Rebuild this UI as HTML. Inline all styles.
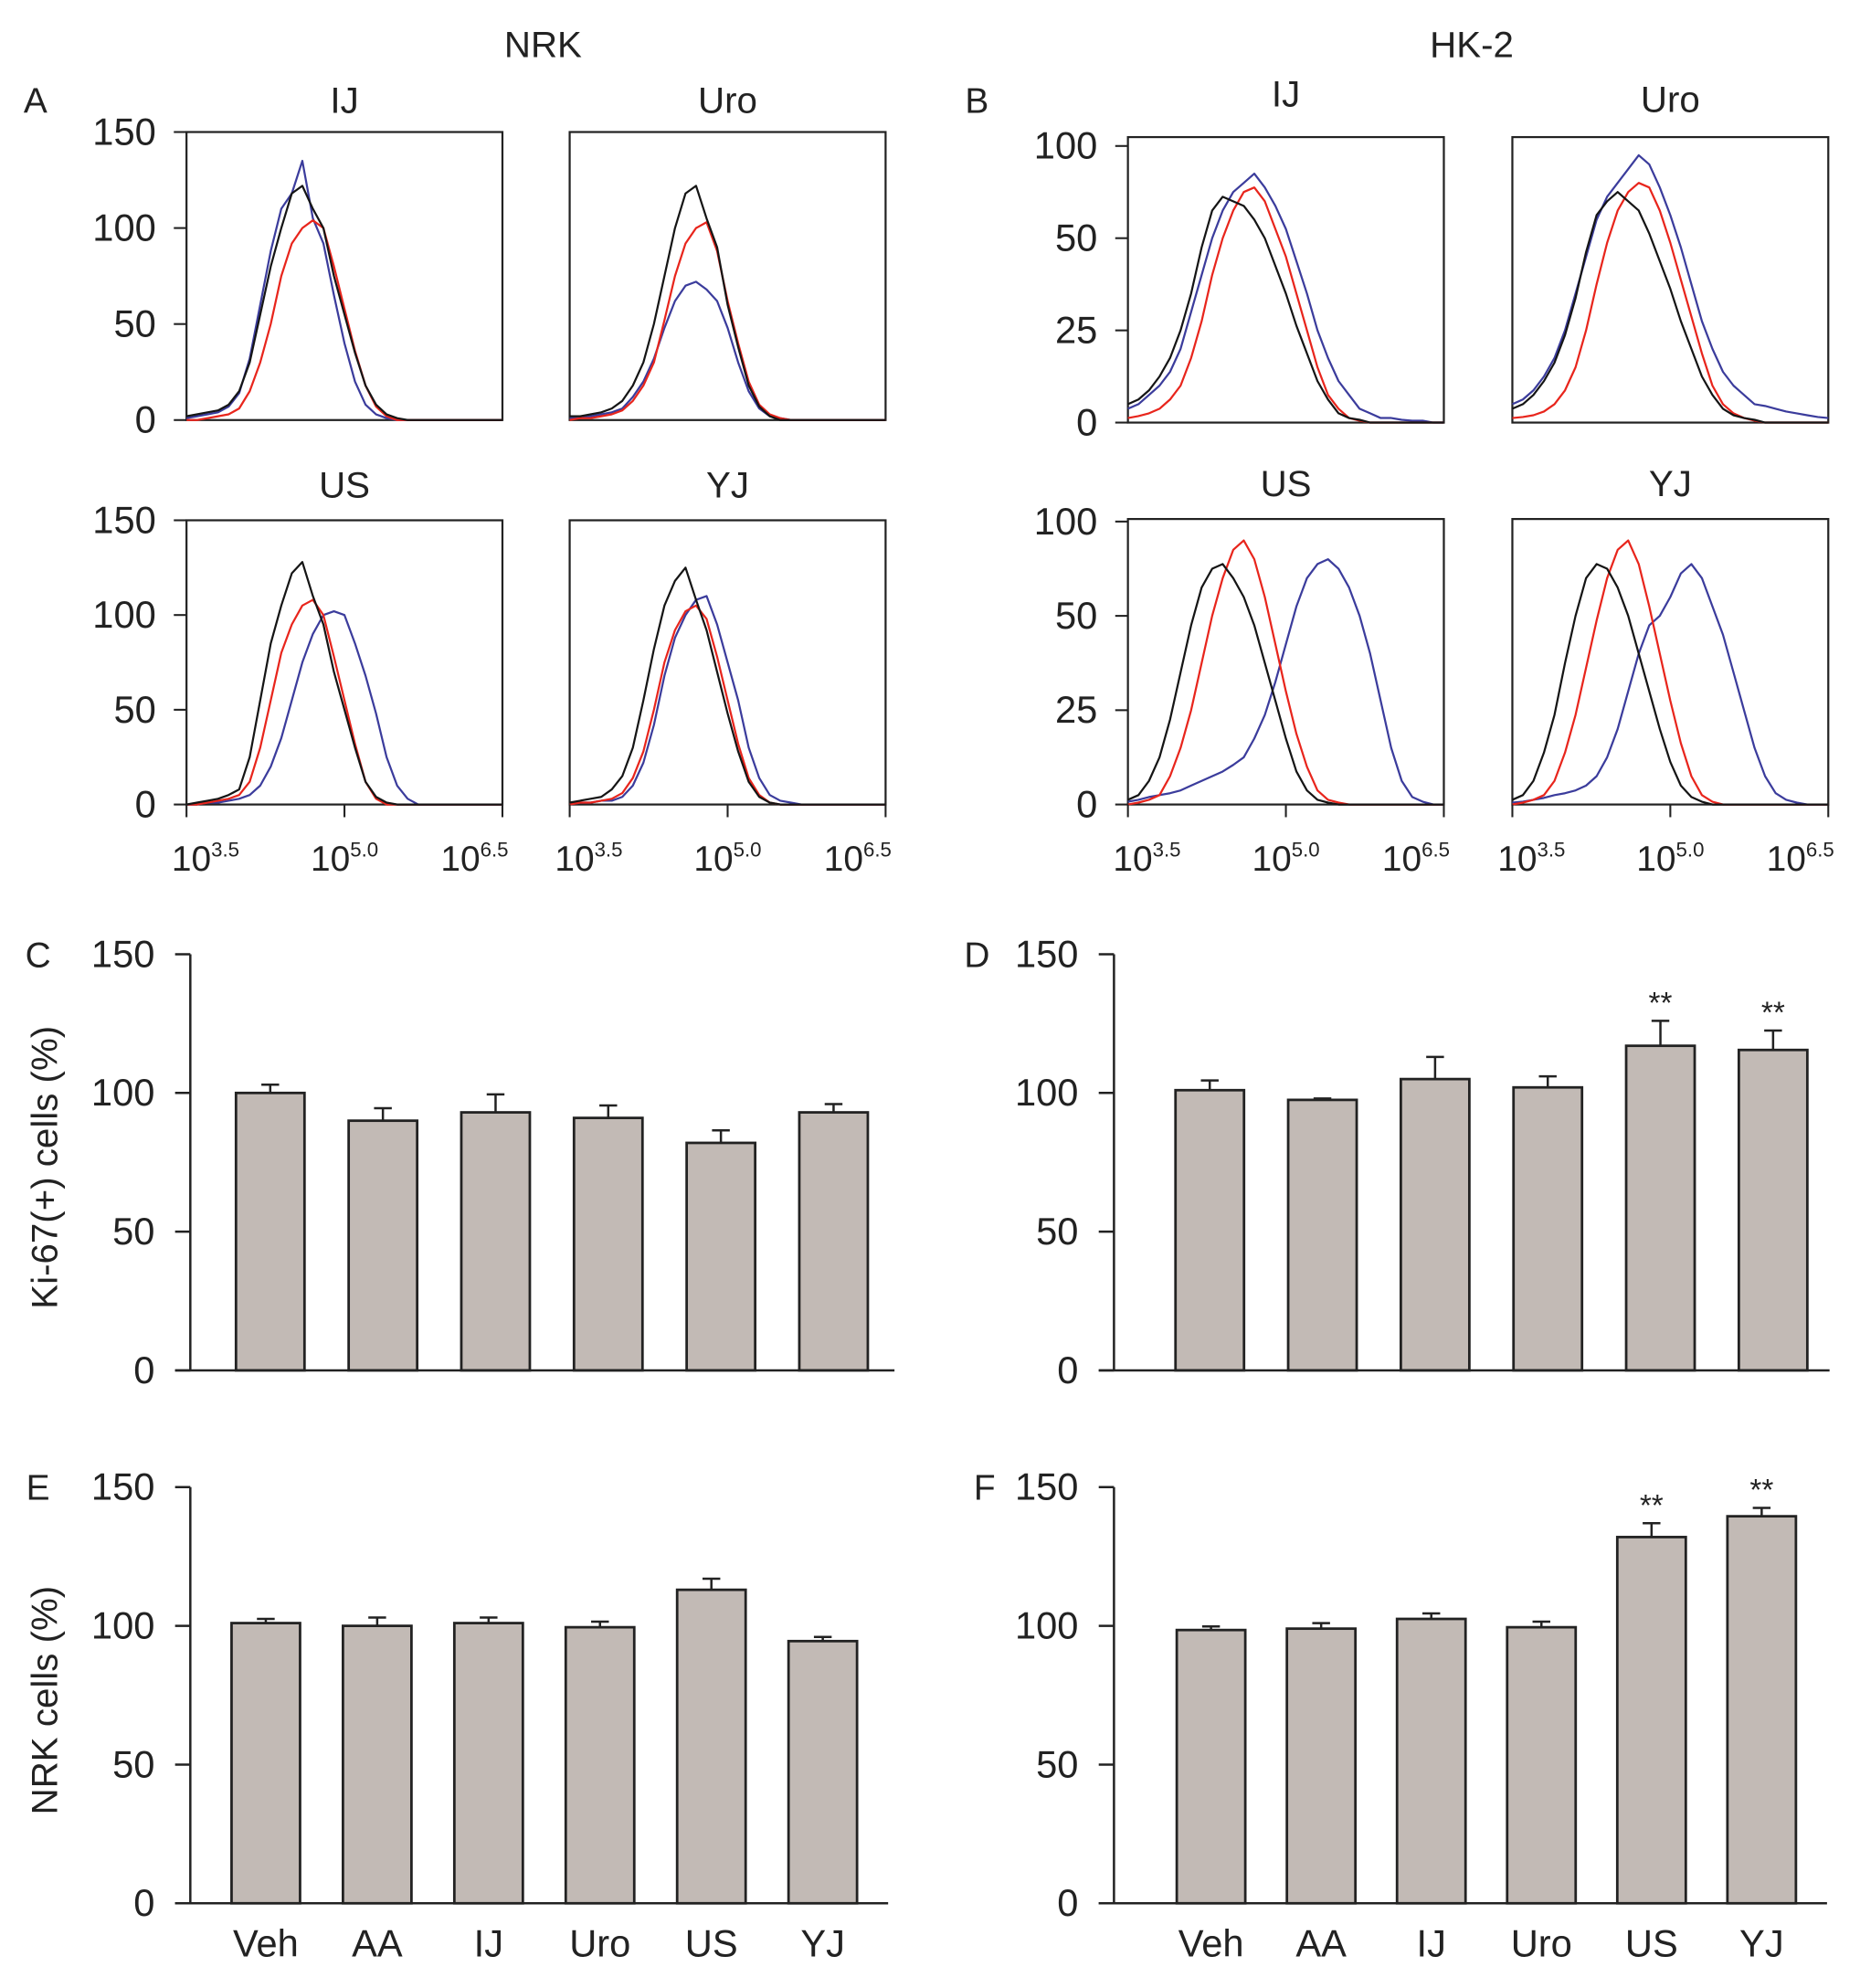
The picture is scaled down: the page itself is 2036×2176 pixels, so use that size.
<!DOCTYPE html>
<html><head><meta charset="utf-8">
<style>
html,body{margin:0;padding:0;background:#fff;}
svg{display:block;}
text{font-family:"Liberation Sans",Arial,sans-serif;fill:#222;}
</style></head>
<body>
<svg id="fig" xmlns="http://www.w3.org/2000/svg" width="2036" height="2176" viewBox="0 0 1466 1566.7"></svg>
<script>
// ---------- DATA ----------
const logBins = [3.5,3.6,3.7,3.8,3.9,4.0,4.1,4.2,4.3,4.4,4.5,4.6,4.7,4.8,4.9,5.0,5.1,5.2,5.3,5.4,5.5,5.6,5.7,5.8,5.9,6.0,6.1,6.2,6.3,6.4,6.5];
const xTickVals = [3.5,5.0,6.5];
const xTickSups = ['3.5','5.0','6.5'];
const nrkTickVals = [0,50,100,150];
const nrkTickLabels = ['0','50','100','150'];
const hkTickVals = [0,1,2,3];
const hkTickLabels = ['0','25','50','100'];

// NRK histograms (counts)
const nrkIJblack = [2,3,4,5,8,15,30,55,80,100,118,122,110,100,75,55,35,18,8,3,1,0,0,0,0,0,0,0,0,0,0];
const nrkIJred   = [0,0,1,2,3,6,15,30,50,75,92,100,104,100,80,58,36,18,7,2,0,0,0,0,0,0,0,0,0,0,0];
const nrkIJblue  = [1,2,3,4,7,14,32,60,88,110,118,135,105,92,65,40,20,8,3,1,0,0,0,0,0,0,0,0,0,0,0];
const nrkUroblack= [2,2,3,4,6,10,18,30,50,75,100,118,122,105,90,60,38,18,7,2,0,0,0,0,0,0,0,0,0,0,0];
const nrkUrored  = [0,1,1,2,3,5,10,18,30,52,75,92,100,103,88,62,40,20,8,3,1,0,0,0,0,0,0,0,0,0,0];
const nrkUroblue = [1,1,2,3,4,6,12,20,32,48,62,70,72,68,62,48,30,15,6,2,1,0,0,0,0,0,0,0,0,0,0];
const nrkUSblack = [0,1,2,3,5,8,25,55,85,105,122,128,110,95,70,50,30,12,4,1,0,0,0,0,0,0,0,0,0,0,0];
const nrkUSred   = [0,0,1,2,3,5,12,30,55,80,95,105,108,100,78,55,32,12,3,0,0,0,0,0,0,0,0,0,0,0,0];
const nrkUSblue  = [0,0,1,1,2,3,5,10,20,35,55,75,90,100,102,100,85,68,48,25,10,3,0,0,0,0,0,0,0,0,0];
const nrkYJblack = [1,2,3,4,8,15,30,55,82,105,118,125,108,92,70,48,28,12,4,1,0,0,0,0,0,0,0,0,0,0,0];
const nrkYJred   = [0,1,1,2,3,6,14,28,50,75,92,102,105,98,78,55,32,14,5,1,0,0,0,0,0,0,0,0,0,0,0];
const nrkYJblue  = [0,1,1,2,2,4,10,22,42,68,88,100,108,110,95,75,55,30,14,5,2,1,0,0,0,0,0,0,0,0,0];

// HK-2 histograms (axis units: 0,1,2,3 -> labels 0,25,50,100)
const hkIJblack = [0.2,0.25,0.35,0.5,0.7,1.0,1.4,1.9,2.3,2.45,2.4,2.35,2.2,2.0,1.7,1.4,1.05,0.75,0.45,0.25,0.1,0.05,0.03,0,0,0,0,0,0,0,0];
const hkIJred   = [0.05,0.07,0.1,0.15,0.25,0.4,0.7,1.1,1.6,2.0,2.3,2.5,2.55,2.4,2.1,1.8,1.4,1.0,0.6,0.3,0.15,0.05,0.02,0,0,0,0,0,0,0,0];
const hkIJblue  = [0.15,0.2,0.3,0.4,0.55,0.8,1.2,1.6,2.0,2.3,2.5,2.6,2.7,2.55,2.35,2.1,1.75,1.4,1.0,0.7,0.45,0.3,0.15,0.1,0.05,0.05,0.03,0.02,0.02,0,0];
const hkUroblack= [0.15,0.2,0.3,0.45,0.65,0.95,1.35,1.85,2.25,2.4,2.5,2.4,2.3,2.05,1.75,1.45,1.1,0.8,0.5,0.3,0.15,0.08,0.05,0.03,0,0,0,0,0,0,0];
const hkUrored  = [0.05,0.06,0.08,0.12,0.2,0.35,0.6,1.0,1.5,1.95,2.3,2.5,2.6,2.55,2.3,1.95,1.55,1.15,0.75,0.4,0.2,0.1,0.05,0.02,0,0,0,0,0,0,0];
const hkUroblue = [0.2,0.25,0.35,0.5,0.7,1.0,1.4,1.8,2.2,2.45,2.6,2.75,2.9,2.8,2.55,2.25,1.9,1.5,1.1,0.8,0.55,0.4,0.3,0.2,0.18,0.15,0.12,0.1,0.08,0.06,0.05];
const hkUSblack = [0.05,0.1,0.25,0.5,0.9,1.4,1.9,2.3,2.5,2.55,2.4,2.2,1.9,1.5,1.1,0.7,0.35,0.15,0.05,0.02,0,0,0,0,0,0,0,0,0,0,0];
const hkUSred   = [0,0.02,0.05,0.1,0.3,0.6,1.0,1.5,2.0,2.4,2.7,2.8,2.6,2.2,1.7,1.2,0.75,0.4,0.15,0.05,0.02,0,0,0,0,0,0,0,0,0,0];
const hkUSblue  = [0.03,0.05,0.08,0.1,0.12,0.15,0.2,0.25,0.3,0.35,0.42,0.5,0.7,0.95,1.3,1.7,2.1,2.4,2.55,2.6,2.5,2.3,2.0,1.6,1.1,0.6,0.25,0.08,0.03,0,0];
const hkYJblack = [0.05,0.1,0.25,0.55,0.95,1.5,2.0,2.4,2.55,2.5,2.3,2.0,1.6,1.2,0.8,0.45,0.2,0.08,0.03,0,0,0,0,0,0,0,0,0,0,0,0];
const hkYJred   = [0,0.02,0.05,0.1,0.25,0.55,0.95,1.45,1.95,2.4,2.7,2.8,2.55,2.1,1.6,1.1,0.65,0.3,0.1,0.03,0,0,0,0,0,0,0,0,0,0,0];
const hkYJblue  = [0.02,0.03,0.05,0.07,0.1,0.12,0.15,0.2,0.3,0.5,0.8,1.2,1.6,1.9,2.0,2.2,2.45,2.55,2.4,2.1,1.8,1.4,1.0,0.6,0.3,0.12,0.05,0.02,0,0,0];

// Bar charts
const barCats = ['Veh','AA','IJ','Uro','US','YJ'];
const barTickVals = [0,50,100,150];
const barTickLabels = ['0','50','100','150'];
const cVals = [100,90,93,91,82,93];
const cErrs = [3,4.5,6.5,4.5,4.5,3];
const dVals = [101,97.5,105,102,117,115.5];
const dErrs = [3.5,0.5,8,4,9,7];
const dSig  = ['','','','','**','**'];
const eVals = [101,100,101,99.5,113,94.5];
const eErrs = [1.5,3,2,2,4,1.5];
const fVals = [98.5,99,102.5,99.5,132,139.5];
const fErrs = [1.3,2,2,2,5,3];
const fSig  = ['','','','','**','**'];

// ---------- DRAWING ----------
const svg = document.getElementById('fig');
const NS = 'http://www.w3.org/2000/svg';
function mk(tag, attrs, parent){
  const el = document.createElementNS(NS, tag);
  for (const k in attrs) el.setAttribute(k, attrs[k]);
  (parent||svg).appendChild(el);
  return el;
}
function txt(s, x, y, size, anchor, parent){
  const t = mk('text', {x:x, y:y, 'font-size':size, 'text-anchor':anchor||'middle'}, parent);
  t.textContent = s;
  return t;
}

const COLORS = {black:'#151515', red:'#e8251c', blue:'#3b3c9c'};
const xLabelShift = [15,0,-22];

function histPanel(name, box, yTickVals, yTickLabels, yTopVal, curves){
  const g = mk('g', {});
  
  
  const xs = v => box.x0 + (v - 3.5) / 3 * (box.x1 - box.x0);
  const ys = v => box.y0 - v / yTopVal * (box.y0 - box.yTopTick);
  const r = mk('rect', {x:box.x0, y:box.top, width:box.x1-box.x0, height:box.y0-box.top, fill:'none', stroke:'#222', 'stroke-width':1.6}, g);
  
  
  const order = ['blue','red','black'];
  order.forEach(c => {
    const arr = curves[c];
    const pts = logBins.map((b,i) => xs(b).toFixed(1) + ',' + ys(arr[i]).toFixed(1)).join(' ');
    const p = mk('polyline', {points:pts, fill:'none', stroke:COLORS[c], 'stroke-width':1.6, 'stroke-linejoin':'round'}, g);
    
    
  });
  yTickVals.forEach((v,i) => {
    const y = ys(v);
    const l = mk('line', {x1:box.x0-10, x2:box.x0, y1:y, y2:y, stroke:'#222', 'stroke-width':1.5}, g);
    
    
    const t = txt(yTickLabels[i], box.x0-24, y+10, 30, 'end', g);
    
    
  });
  if (box.xlabels){
    xTickVals.forEach((v,i) => {
      const x = xs(v);
      const l = mk('line', {x1:x, x2:x, y1:box.y0, y2:box.y0+10, stroke:'#222', 'stroke-width':1.5}, g);
      
      
      const t = mk('text', {x:x+xLabelShift[i], y:box.y0+52, 'font-size':28, 'text-anchor':'middle'}, g);
      
      
      t.textContent = '10';
      const s = mk('tspan', {'font-size':16, dy:-11}, t);
      s.textContent = xTickSups[i];
    });
  }
  const tt = txt(box.title, (box.x0+box.x1)/2, box.top-box.tOff, 29, 'middle', g);
  
  
}

histPanel('nrk-ij', {x0:147,x1:396,top:104,y0:331,yTopTick:104,title:'IJ',tOff:15,xlabels:false}, nrkTickVals, nrkTickLabels, 150, {black:nrkIJblack, red:nrkIJred, blue:nrkIJblue});
histPanel('nrk-uro', {x0:449,x1:698,top:104,y0:331,yTopTick:104,title:'Uro',tOff:15,xlabels:false}, [], [], 150, {black:nrkUroblack, red:nrkUrored, blue:nrkUroblue});
histPanel('nrk-us', {x0:147,x1:396,top:410,y0:634,yTopTick:410,title:'US',tOff:18,xlabels:true}, nrkTickVals, nrkTickLabels, 150, {black:nrkUSblack, red:nrkUSred, blue:nrkUSblue});
histPanel('nrk-yj', {x0:449,x1:698,top:410,y0:634,yTopTick:410,title:'YJ',tOff:18,xlabels:true}, [], [], 150, {black:nrkYJblack, red:nrkYJred, blue:nrkYJblue});
histPanel('hk2-ij', {x0:889,x1:1138,top:108,y0:333,yTopTick:115,title:'IJ',tOff:24,xlabels:false}, hkTickVals, hkTickLabels, 3, {black:hkIJblack, red:hkIJred, blue:hkIJblue});
histPanel('hk2-uro', {x0:1192,x1:1441,top:108,y0:333,yTopTick:115,title:'Uro',tOff:20,xlabels:false}, [], [], 3, {black:hkUroblack, red:hkUrored, blue:hkUroblue});
histPanel('hk2-us', {x0:889,x1:1138,top:409,y0:634,yTopTick:411,title:'US',tOff:18,xlabels:true}, hkTickVals, hkTickLabels, 3, {black:hkUSblack, red:hkUSred, blue:hkUSblue});
histPanel('hk2-yj', {x0:1192,x1:1441,top:409,y0:634,yTopTick:411,title:'YJ',tOff:18,xlabels:true}, [], [], 3, {black:hkYJblack, red:hkYJred, blue:hkYJblue});

function barPanel(name, cfg, vals, errs, sig){
  const g = mk('g', {});
  
  
  const ys = v => cfg.y0 - v / 150 * (cfg.y0 - cfg.yTop);
  const xc = i => cfg.first + i * cfg.step;
  const bw = 54;
  vals.forEach((v,i) => {
    const x = xc(i);
    const ey = ys(v + errs[i]);
    const el = mk('line', {x1:x, x2:x, y1:ys(v), y2:ey, stroke:'#222', 'stroke-width':1.8}, g);
    
    
    const ec = mk('line', {x1:x-7, x2:x+7, y1:ey, y2:ey, stroke:'#222', 'stroke-width':1.8}, g);
    
    
    const r = mk('rect', {x:x-bw/2, y:ys(v), width:bw, height:cfg.y0-ys(v), fill:'#c2bab5', stroke:'#222', 'stroke-width':2}, g);
    
    
    if (sig && sig[i]){
      const s = txt(sig[i], x, ey - 6, 24, 'middle', g);
      
      
    }
    if (cfg.xlabels){
      const t = txt(barCats[i], x, cfg.y0 + 42, 30, 'middle', g);
      
      
    }
  });
  const ya = mk('line', {x1:cfg.ax, x2:cfg.ax, y1:cfg.yTop, y2:cfg.y0, stroke:'#222', 'stroke-width':1.8}, g);
  
  
  const xa = mk('line', {x1:cfg.ax-12, x2:cfg.xEnd, y1:cfg.y0, y2:cfg.y0, stroke:'#222', 'stroke-width':1.8}, g);
  
  
  barTickVals.forEach((v,i) => {
    const y = ys(v);
    const l = mk('line', {x1:cfg.ax-12, x2:cfg.ax, y1:y, y2:y, stroke:'#222', 'stroke-width':1.8}, g);
    
    
    const t = txt(barTickLabels[i], cfg.ax-28, y+10, 30, 'end', g);
    
    
  });
}
barPanel('c', {ax:150,xEnd:705,yTop:752,y0:1080,first:213,step:88.8,xlabels:false}, cVals, cErrs, null);
barPanel('d', {ax:878,xEnd:1442,yTop:752,y0:1080,first:953.5,step:88.8,xlabels:false}, dVals, dErrs, dSig);
barPanel('e', {ax:150,xEnd:700,yTop:1172,y0:1500,first:209.5,step:87.8,xlabels:true}, eVals, eErrs, null);
barPanel('f', {ax:878,xEnd:1440,yTop:1172,y0:1500,first:954.5,step:86.8,xlabels:true}, fVals, fErrs, fSig);

// Labels
const labels = [['NRK',428,45,29,'title-nrk'],['HK-2',1160,45,29,'title-hk2'],
  ['A',28,89,28,'panel-label-a'],['B',770,89,28,'panel-label-b'],
  ['C',30,762,28,'panel-label-c'],['D',770,762,28,'panel-label-d'],
  ['E',30,1182,28,'panel-label-e'],['F',776,1182,28,'panel-label-f']];
labels.forEach(L => {
  const t = txt(L[0], L[1], L[2], L[3], 'middle');
  
  
});
const yt1 = mk('text', {x:0, y:0, 'font-size':29, 'text-anchor':'middle', transform:'translate(45,920) rotate(-90)'});
yt1.textContent = 'Ki-67(+) cells (%)';


const yt2 = mk('text', {x:0, y:0, 'font-size':29, 'text-anchor':'middle', transform:'translate(45,1340) rotate(-90)'});
yt2.textContent = 'NRK cells (%)';


</script>
</body></html>
